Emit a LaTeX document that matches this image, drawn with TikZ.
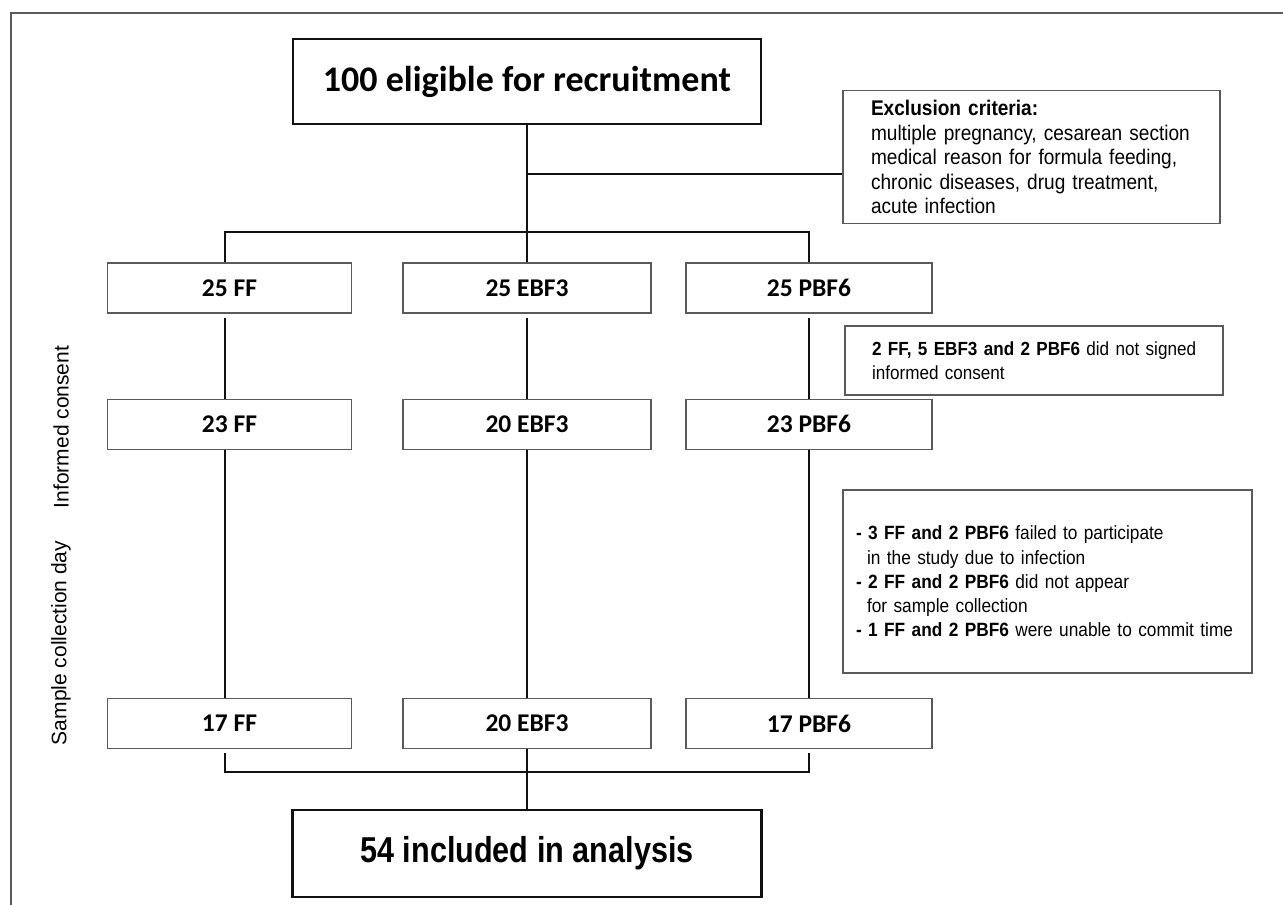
\documentclass[tikz,border=0pt]{standalone}
\usepackage{fontspec}
\setmainfont{Liberation Sans}
\newfontfamily\calfont{Carlito}
\newfontfamily\narrowfont[FakeStretch=0.85]{Liberation Sans}
\newfontfamily\notefont[FakeStretch=0.9]{Liberation Sans}
\usetikzlibrary{positioning}
\definecolor{clrborder}{HTML}{111111}
\definecolor{clrframe}{HTML}{5A5A5A}
\definecolor{clrtext}{HTML}{000000}

\begin{document}
\begin{tikzpicture}[
    x=1pt, y=-1pt,
    every node/.style={text=clrtext},
    bigbox/.style={draw=clrborder, line width=2.2pt, inner sep=0pt},
    groupbox/.style={draw=clrframe, line width=1.3pt, minimum width=244pt, minimum height=50pt,
                     inner sep=0pt, font=\calfont\bfseries\fontsize{25.5}{30}\selectfont},
    notebox/.style={draw=clrframe, line width=1.3pt, align=left, inner xsep=6pt, inner ysep=0pt},
    link/.style={draw=clrborder, line width=1.8pt},
    sidelabel/.style={rotate=90, font=\fontsize{21}{25}\selectfont},
]
\useasboundingbox (0,0) rectangle (1283,905);
% frame
\draw[clrframe, line width=1.3pt] (11,905) -- (11,13) -- (1283,13);

\node[bigbox, minimum width=468pt, minimum height=85pt, font=\calfont\bfseries\fontsize{36}{42}\selectfont] (n_elig) at (527,81.5) {100 eligible for recruitment};
\node[notebox, minimum height=133pt, text width=365pt,
      font=\notefont\fontsize{21.2}{24.5}\selectfont] (n_excl) at (1031.5,157) {\hspace*{22pt}\textbf{Exclusion criteria:}\\
      \hspace*{22pt}multiple pregnancy, cesarean section\\
      \hspace*{22pt}medical reason for formula feeding,\\
      \hspace*{22pt}chronic diseases, drug treatment,\\
      \hspace*{22pt}acute infection};

% groups after randomisation
\node[groupbox] (n_ff1) at (229.5,288) {25 FF};
\node[groupbox, minimum width=248pt] (n_ebf1) at (527,288) {25 EBF3};
\node[groupbox, minimum width=246pt] (n_pbf1) at (809,288) {25 PBF6};

\node[groupbox, below=85pt of n_ff1] (n_ff2) {23 FF};
\node[groupbox, minimum width=248pt, below=85pt of n_ebf1] (n_ebf2) {20 EBF3};
\node[groupbox, minimum width=246pt, below=85pt of n_pbf1] (n_pbf2) {23 PBF6};

\node[groupbox, below=248pt of n_ff2] (n_ff3) {17 FF};
\node[groupbox, minimum width=248pt, below=248pt of n_ebf2] (n_ebf3) {20 EBF3};
\node[groupbox, minimum width=246pt, below=248pt of n_pbf2] (n_pbf3) {17 PBF6};

\node[notebox, minimum height=69pt, text width=366pt,
      font=\notefont\fontsize{19}{24}\selectfont] (n_consent) at (1034,360.5) {\hspace*{21pt}\textbf{2 FF, 5 EBF3 and 2 PBF6} did not signed\\
      \hspace*{21pt}informed consent};
\node[notebox, minimum height=183pt, text width=397pt,
      font=\notefont\fontsize{19.2}{24.3}\selectfont] (n_drop) at (1047.5,581.5) {\hspace*{7pt}\textbf{- 3 FF and 2 PBF6} failed to participate\\
      \hspace*{18pt}in the study due to infection\\
      \hspace*{7pt}\textbf{- 2 FF and 2 PBF6} did not appear\\
      \hspace*{18pt}for sample collection\\
      \hspace*{7pt}\textbf{- 1 FF and 2 PBF6} were unable to commit time};

\node[bigbox, minimum width=469pt, minimum height=87pt, font=\narrowfont\bfseries\fontsize{36}{42}\selectfont] (n_total) at (527,853.5) {54 included in analysis};

\node[sidelabel] (l_consent) at (61,427) {Informed consent};
\node[sidelabel] (l_sample) at (61,643) {Sample collection day};

% connectors
\coordinate (c_branch) at (527,174);
\coordinate (c_split) at (527,232);
\coordinate (c_join) at (527,772);
\draw[link] (n_elig.south) -- (c_split);
\draw[link] (c_branch) -- (n_excl.west |- c_branch);
\draw[link] (n_ff1.north -| 225,0) |- (c_split) -| (n_pbf1.north);
\draw[link] (c_split) -- (n_ebf1.north);
\draw[link] ([yshift=-4pt]n_ff1.south -| 225,0) -- (n_ff2.north -| 225,0);
\draw[link] ([yshift=-4pt]n_ebf1.south) -- (n_ebf2);
\draw[link] ([yshift=-4pt]n_pbf1.south) -- (n_pbf2);
\draw[link] (n_ff2.south -| 225,0) -- (n_ff3.north -| 225,0);
\draw[link] (n_ebf2) -- (n_ebf3);
\draw[link] (n_pbf2) -- (n_pbf3);
\draw[link] ([yshift=-4pt]n_ff3.south -| 225,0) |- (c_join) -| ([yshift=-4pt]n_pbf3.south);
\draw[link] (n_ebf3.south) -- (c_join) -- (n_total.north);
\end{tikzpicture}
\end{document}
